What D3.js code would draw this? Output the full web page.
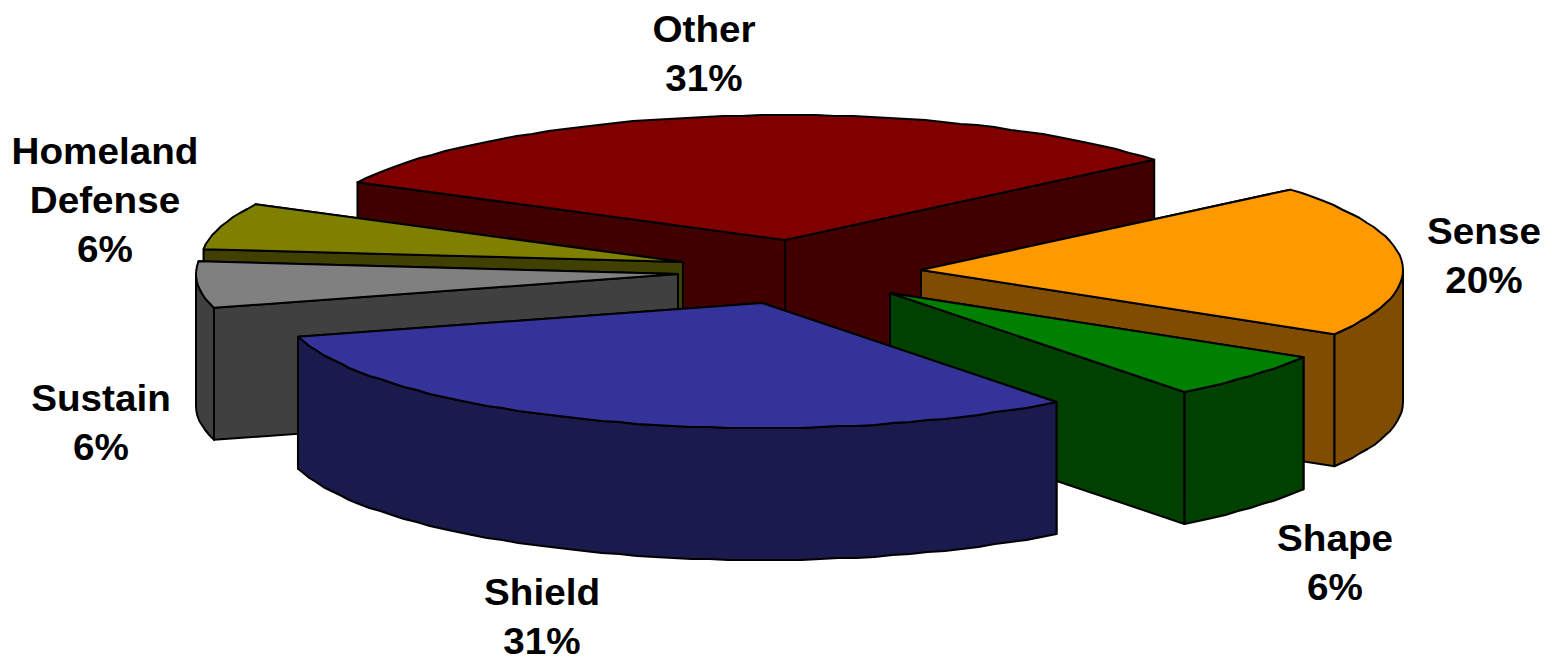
<!DOCTYPE html>
<html>
<head>
<meta charset="utf-8">
<style>
html,body{margin:0;padding:0;background:#fff;overflow:hidden}
svg{display:block}
text{font-family:"Liberation Sans",Arial,sans-serif;font-weight:700;font-size:37px;fill:#000;text-anchor:middle}
</style>
<script src="https://cdn.jsdelivr.net/npm/d3@7/dist/d3.min.js"></script>
</head>
<body>
<svg id="c" width="1546" height="656"></svg>
<script>
// Data
const categories = ["Sense", "Shape", "Shield", "Sustain", "Homeland Defense", "Other"];
const values = [19.7, 5.95, 31.1, 6, 6, 31.25];
const labelLines = [["Sense"], ["Shape"], ["Shield"], ["Sustain"], ["Homeland", "Defense"], ["Other"]];
const topColors = ["#FF9900", "#008000", "#333399", "#808080", "#808000", "#800000"];
const sideColors = ["#804D00", "#004000", "#1A1A4D", "#404040", "#404000", "#400000"];

// Layout
const rx = 482, ry = 125, depth = 132;
const apexX = [921, 890, 762, 678, 683, 785];
const apexY = [270, 293, 303, 274, 262, 240];
const labelX = [1484, 1335, 542, 101, 105, 704];
const labelY = [244, 551, 605, 411, 164, 42];
const lineStep = 49;
const textStretch = 1.045;
const drawOrder = [5, 4, 3, 0, 1, 2];
const startDeg = 50;
const edgeGrid = 1;

const svg = d3.select("#c");
const pie = d3.pie().sort(null)
  .startAngle(startDeg * Math.PI / 180)
  .endAngle((startDeg + 360) * Math.PI / 180);
const arcs = pie(values);

// Projection of a d3.pie angle onto the tilted ellipse
const px = (a, cx) => cx + rx * Math.sin(a);
const py = (a, cy) => cy - ry * Math.cos(a);
const line = d3.line();

// The rim is a fine polyline snapped to whole pixels, which gives the reference's slightly rough edge
function arcPoints(a0, a1, cx, cy, dz) {
  const step = 2.2 * Math.PI / 180;
  const n = Math.max(1, Math.round((a1 - a0) / step));
  return d3.range(n + 1).map(i => {
    const a = a0 + (a1 - a0) * i / n;
    const x = px(a, cx), y = py(a, cy);
    if (i === 0 || i === n) return [x, y + dz];
    return [x, Math.round(y / edgeGrid) * edgeGrid + dz];
  });
}
// Outer wall faces the viewer where the point is on the lower half of the ellipse
function frontSpan(a0, a1) {
  const lo = Math.PI / 2, hi = 3 * Math.PI / 2;
  const spans = [];
  for (const k of [0, 2 * Math.PI]) {
    const s = Math.max(a0, lo + k), e = Math.min(a1, hi + k);
    if (e > s) spans.push([s, e]);
  }
  return spans;
}

const g = svg.append("g")
  .attr("stroke", "#000").attr("stroke-width", 2).attr("stroke-linejoin", "round");

drawOrder.forEach(i => {
  const d = arcs[i], cx = apexX[i], cy = apexY[i];
  const side = sideColors[i], top = topColors[i];
  const wall = a => line([[cx, cy], [px(a, cx), py(a, cy)], [px(a, cx), py(a, cy) + depth], [cx, cy + depth]]) + "Z";
  const walls = [d.startAngle, d.endAngle]
    .sort((a, b) => py(a, cy) - py(b, cy));
  walls.forEach(a => g.append("path").attr("d", wall(a)).attr("fill", side));
  frontSpan(d.startAngle, d.endAngle).forEach(([s, e]) => {
    const upper = arcPoints(s, e, cx, cy, 0);
    const lower = arcPoints(s, e, cx, cy, depth).reverse();
    g.append("path").attr("d", line(upper.concat(lower)) + "Z").attr("fill", side);
  });
  g.append("path")
    .attr("d", line([[cx, cy]].concat(arcPoints(d.startAngle, d.endAngle, cx, cy, 0))) + "Z")
    .attr("fill", top);
});

categories.forEach((c, i) => {
  const t = svg.append("text").attr("data-category", c)
    .attr("transform", `translate(${labelX[i]},0) scale(${textStretch},1)`);
  const lines = labelLines[i].concat([Math.round(values[i]) + "%"]);
  lines.forEach((l, j) => {
    t.append("tspan").attr("x", 0).attr("y", labelY[i] + j * lineStep).text(l);
  });
});
</script>
</body>
</html>
